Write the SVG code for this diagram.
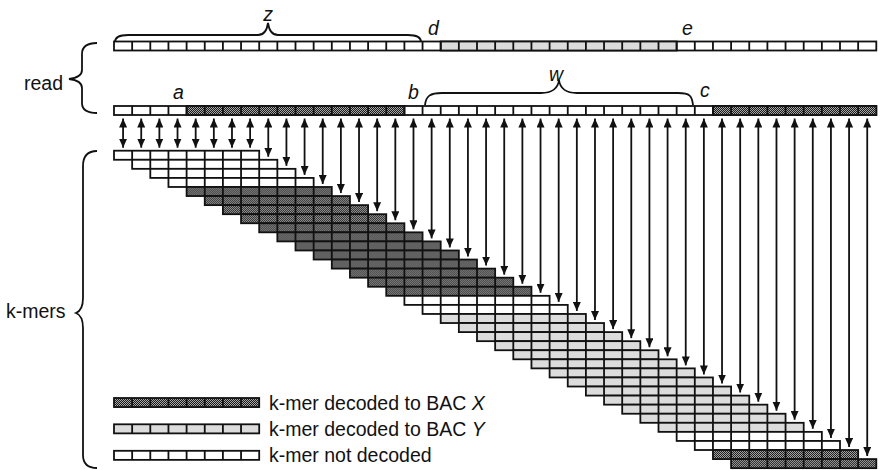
<svg xmlns="http://www.w3.org/2000/svg" xmlns:xlink="http://www.w3.org/1999/xlink" width="880" height="470" viewBox="0 0 880 470">
<style>
text{font-family:"Liberation Sans",Arial,sans-serif;font-size:19.5px;fill:#111}
.it{font-style:italic}
.x{fill:url(#chk)}
.y{fill:#dcdcdc}
.n{fill:#fff}
.cellrow{stroke:#111;stroke-width:1.8}
.brace{fill:none;stroke:#111;stroke-width:1.8}
#connectors line{stroke:#111;stroke-width:1.8;marker-start:url(#ah);marker-end:url(#ah)}
</style>
<defs>
<pattern id="chk" width="2" height="2" patternUnits="userSpaceOnUse"><rect width="2" height="2" fill="#1a1a1a"/><rect width="1" height="1" fill="#a8a8a8"/><rect x="1" y="1" width="1" height="1" fill="#a8a8a8"/></pattern>
<g id="km"><rect width="145.2" height="9.07" stroke="#111" stroke-width="1.8"/><path d="M18.15,0v9.07M36.3,0v9.07M54.45,0v9.07M72.6,0v9.07M90.75,0v9.07M108.9,0v9.07M127.05,0v9.07" fill="none" stroke="#111" stroke-width="1.8"/></g>
<path id="sep42" fill="none" stroke="#111" stroke-width="1.8" d="M18.15,0v9M36.3,0v9M54.45,0v9M72.6,0v9M90.75,0v9M108.9,0v9M127.05,0v9M145.2,0v9M163.35,0v9M181.5,0v9M199.65,0v9M217.8,0v9M235.95,0v9M254.1,0v9M272.25,0v9M290.4,0v9M308.55,0v9M326.7,0v9M344.85,0v9M363,0v9M381.15,0v9M399.3,0v9M417.45,0v9M435.6,0v9M453.75,0v9M471.9,0v9M490.05,0v9M508.2,0v9M526.35,0v9M544.5,0v9M562.65,0v9M580.8,0v9M598.95,0v9M617.1,0v9M635.25,0v9M653.4,0v9M671.55,0v9M689.7,0v9M707.85,0v9M726,0v9M744.15,0v9"/>
<marker id="ah" viewBox="0 0 9 8" refX="9" refY="4" markerWidth="9" markerHeight="8" markerUnits="userSpaceOnUse" orient="auto-start-reverse"><path d="M0,0L9,4L0,8z" fill="#111"/></marker>
</defs>

<g id="read-top">
<rect class="cellrow n" x="114" y="41.5" width="762.3" height="9"/>
<rect class="cellrow y" x="440.7" y="41.5" width="235.95" height="9"/>
<use xlink:href="#sep42" href="#sep42" x="114" y="41.5"/>
</g>
<g id="read">
<rect class="cellrow n" x="114" y="106" width="762.3" height="9"/>
<rect class="cellrow x" x="186.6" y="106" width="217.8" height="9"/>
<rect class="cellrow x" x="712.95" y="106" width="163.35" height="9"/>
<use xlink:href="#sep42" href="#sep42" x="114" y="106"/>
</g>

<g id="braces">
<path class="brace" d="M115,42C115,37 119,35 128,35L258,35C264,35 267,30 268,23C269,30 272,35 278,35L408,35C417,35 421,37 421,42"/>
<path class="brace" d="M425,105C426,96 430,93 442,93L541,93C553,93 558,88 559,80C560,88 565,93 577,93L678,93C690,93 692,96 693,105"/>
<path class="brace" d="M97,43C88,43 82,46 82,54L82,70C82,75 77,78 69,79C77,80 82,83 82,88L82,103C82,110 88,113 97,113"/>
<path class="brace" d="M97,151C88,151 83,156 83,166L83,298C83,306 81,311 76,313C81,315 83,320 83,328L83,455C83,464 88,468 97,468"/>
</g>

<g id="labels">
<text class="it" x="268" y="21" text-anchor="middle">z</text>
<text class="it" x="428" y="35">d</text>
<text class="it" x="682" y="35">e</text>
<text class="it" x="173" y="99">a</text>
<text class="it" x="408" y="99">b</text>
<text class="it" x="700" y="97">c</text>
<text class="it" x="556" y="81" text-anchor="middle">w</text>
<text x="24" y="90">read</text>
<text x="6" y="318">k-mers</text>
</g>

<g id="kmers">
<g id="kmer-00" class="n"><use href="#km" x="114" y="150.7"/></g>
<g id="kmer-01" class="n"><use href="#km" x="132.15" y="159.77"/></g>
<g id="kmer-02" class="n"><use href="#km" x="150.3" y="168.84"/></g>
<g id="kmer-03" class="n"><use href="#km" x="168.45" y="177.91"/></g>
<g id="kmer-04" class="x"><use href="#km" x="186.6" y="186.98"/></g>
<g id="kmer-05" class="x"><use href="#km" x="204.75" y="196.05"/></g>
<g id="kmer-06" class="x"><use href="#km" x="222.9" y="205.12"/></g>
<g id="kmer-07" class="x"><use href="#km" x="241.05" y="214.19"/></g>
<g id="kmer-08" class="x"><use href="#km" x="259.2" y="223.26"/></g>
<g id="kmer-09" class="x"><use href="#km" x="277.35" y="232.33"/></g>
<g id="kmer-10" class="x"><use href="#km" x="295.5" y="241.4"/></g>
<g id="kmer-11" class="x"><use href="#km" x="313.65" y="250.47"/></g>
<g id="kmer-12" class="x"><use href="#km" x="331.8" y="259.54"/></g>
<g id="kmer-13" class="x"><use href="#km" x="349.95" y="268.61"/></g>
<g id="kmer-14" class="x"><use href="#km" x="368.1" y="277.68"/></g>
<g id="kmer-15" class="x"><use href="#km" x="386.25" y="286.75"/></g>
<g id="kmer-16" class="n"><use href="#km" x="404.4" y="295.82"/></g>
<g id="kmer-17" class="n"><use href="#km" x="422.55" y="304.89"/></g>
<g id="kmer-18" class="y"><use href="#km" x="440.7" y="313.96"/></g>
<g id="kmer-19" class="y"><use href="#km" x="458.85" y="323.03"/></g>
<g id="kmer-20" class="y"><use href="#km" x="477" y="332.1"/></g>
<g id="kmer-21" class="y"><use href="#km" x="495.15" y="341.17"/></g>
<g id="kmer-22" class="y"><use href="#km" x="513.3" y="350.24"/></g>
<g id="kmer-23" class="y"><use href="#km" x="531.45" y="359.31"/></g>
<g id="kmer-24" class="y"><use href="#km" x="549.6" y="368.38"/></g>
<g id="kmer-25" class="y"><use href="#km" x="567.75" y="377.45"/></g>
<g id="kmer-26" class="y"><use href="#km" x="585.9" y="386.52"/></g>
<g id="kmer-27" class="y"><use href="#km" x="604.05" y="395.59"/></g>
<g id="kmer-28" class="y"><use href="#km" x="622.2" y="404.66"/></g>
<g id="kmer-29" class="y"><use href="#km" x="640.35" y="413.73"/></g>
<g id="kmer-30" class="y"><use href="#km" x="658.5" y="422.8"/></g>
<g id="kmer-31" class="n"><use href="#km" x="676.65" y="431.87"/></g>
<g id="kmer-32" class="n"><use href="#km" x="694.8" y="440.94"/></g>
<g id="kmer-33" class="x"><use href="#km" x="712.95" y="450.01"/></g>
<g id="kmer-34" class="x"><use href="#km" x="731.1" y="459.08"/></g>
</g>

<g id="connectors">
<line x1="123.08" y1="118.5" x2="123.08" y2="147.7"/>
<line x1="141.23" y1="118.5" x2="141.23" y2="147.7"/>
<line x1="159.38" y1="118.5" x2="159.38" y2="147.7"/>
<line x1="177.53" y1="118.5" x2="177.53" y2="147.7"/>
<line x1="195.68" y1="118.5" x2="195.68" y2="147.7"/>
<line x1="213.83" y1="118.5" x2="213.83" y2="147.7"/>
<line x1="231.98" y1="118.5" x2="231.98" y2="147.7"/>
<line x1="250.13" y1="118.5" x2="250.13" y2="147.7"/>
<line x1="268.28" y1="118.5" x2="268.28" y2="156.77"/>
<line x1="286.43" y1="118.5" x2="286.43" y2="165.84"/>
<line x1="304.58" y1="118.5" x2="304.58" y2="174.91"/>
<line x1="322.73" y1="118.5" x2="322.73" y2="183.98"/>
<line x1="340.88" y1="118.5" x2="340.88" y2="193.05"/>
<line x1="359.03" y1="118.5" x2="359.03" y2="202.12"/>
<line x1="377.18" y1="118.5" x2="377.18" y2="211.19"/>
<line x1="395.33" y1="118.5" x2="395.33" y2="220.26"/>
<line x1="413.48" y1="118.5" x2="413.48" y2="229.33"/>
<line x1="431.63" y1="118.5" x2="431.63" y2="238.4"/>
<line x1="449.78" y1="118.5" x2="449.78" y2="247.47"/>
<line x1="467.93" y1="118.5" x2="467.93" y2="256.54"/>
<line x1="486.08" y1="118.5" x2="486.08" y2="265.61"/>
<line x1="504.23" y1="118.5" x2="504.23" y2="274.68"/>
<line x1="522.38" y1="118.5" x2="522.38" y2="283.75"/>
<line x1="540.53" y1="118.5" x2="540.53" y2="292.82"/>
<line x1="558.68" y1="118.5" x2="558.68" y2="301.89"/>
<line x1="576.83" y1="118.5" x2="576.83" y2="310.96"/>
<line x1="594.98" y1="118.5" x2="594.98" y2="320.03"/>
<line x1="613.13" y1="118.5" x2="613.13" y2="329.1"/>
<line x1="631.28" y1="118.5" x2="631.28" y2="338.17"/>
<line x1="649.43" y1="118.5" x2="649.43" y2="347.24"/>
<line x1="667.58" y1="118.5" x2="667.58" y2="356.31"/>
<line x1="685.73" y1="118.5" x2="685.73" y2="365.38"/>
<line x1="703.88" y1="118.5" x2="703.88" y2="374.45"/>
<line x1="722.03" y1="118.5" x2="722.03" y2="383.52"/>
<line x1="740.18" y1="118.5" x2="740.18" y2="392.59"/>
<line x1="758.33" y1="118.5" x2="758.33" y2="401.66"/>
<line x1="776.48" y1="118.5" x2="776.48" y2="410.73"/>
<line x1="794.63" y1="118.5" x2="794.63" y2="419.8"/>
<line x1="812.78" y1="118.5" x2="812.78" y2="428.87"/>
<line x1="830.93" y1="118.5" x2="830.93" y2="437.94"/>
<line x1="849.08" y1="118.5" x2="849.08" y2="447.01"/>
<line x1="867.23" y1="118.5" x2="867.23" y2="456.08"/>
</g>

<g id="legend">
<g id="legend-x" class="x"><use href="#km" x="114" y="398"/><text x="269" y="409.5">k-mer decoded to BAC <tspan class="it">X</tspan></text></g>
<g id="legend-y" class="y"><use href="#km" x="114" y="424.3"/><text x="269" y="435.5">k-mer decoded to BAC <tspan class="it">Y</tspan></text></g>
<g id="legend-n" class="n"><use href="#km" x="114" y="450.8"/><text x="269" y="461.5">k-mer not decoded</text></g>
</g>
</svg>
